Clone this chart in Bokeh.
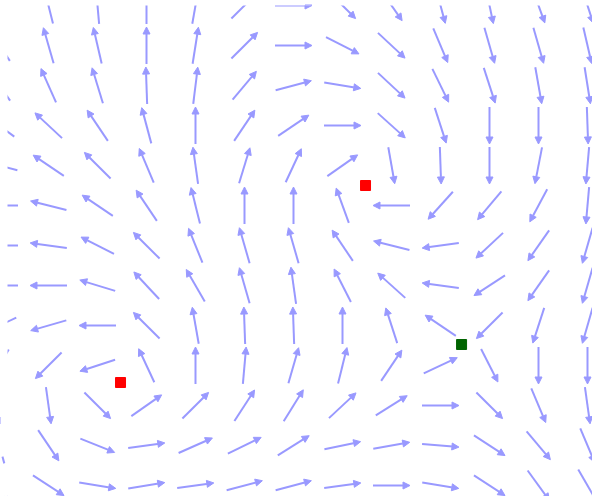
import numpy as np
from bokeh.plotting import figure
from bokeh.models import Arrow, NormalHead, ColumnDataSource, Range1d
from bokeh.embed import file_html
from bokeh.resources import INLINE

# grid: columns 0..12 (x), rows listed top to bottom (y = 12 .. 0)
cols = list(range(13))
rows = list(range(12, -1, -1))

# arrow direction in degrees (0 = right, 90 = up), one list per row, top row first
ang_r0 = [110, 104, 95, 90, 80, 45, 0, -45, -55, -75, -78, -70, -72]
ang_r1 = [124, 106, 103, 90, 81, 45, 0, -27, -43, -67, -74, -74, -77]
ang_r2 = [125, 114, 107, 92, 83, 50, 15, -9, -43, -64, -72, -80, -81]
ang_r3 = [143, 137, 124, 105, 90, 56, 34, 0, -42, -72, -90, -90, -88]
ang_r4 = [165, 146, 135, 113, 98, 73, 65, 35, -80, -88, -90, -101, -95]
ang_r5 = [180, 166, 146, 124, 104, 90, 90, 110, 180, 228, 230, 242, 265]
ang_r6 = [180, 172, 153, 135, 112, 106, 106, 124, 166, 188, 223, 235, 254]
ang_r7 = [180, 180, 163, 133, 120, 106, 98, 117, 138, 172, 213, 235, 254]
ang_r8 = [205, 196, 180, 135, 100, 92, 92, 90, 108, 146, 225, 252, 254]
ang_r9 = [240, 225, 198, 115, 90, 85, 74, 76, 56, 25, -63, -90, -90]
ang_r10 = [-90, -82, -45, 35, 45, 57, 58, 43, 32, 0, -45, -67, -82]
ang_r11 = [-75, -56, -22, 8, 24, 26, 32, 12, 10, -5, -33, -50, -67]
ang_r12 = [-70, -33, -9, 9, 8, 15, 15, 8, 0, -9, -33, -54, -60]
angles = [ang_r0, ang_r1, ang_r2, ang_r3, ang_r4, ang_r5, ang_r6,
          ang_r7, ang_r8, ang_r9, ang_r10, ang_r11, ang_r12]

# special points
red_x = [7.47, 2.47]
red_y = [7.5, 2.575]
green_x = [9.43]
green_y = [3.525]

W, H = 592, 496
BL, BT = 7, 5
x0r, x1r = (BL + 1) / 49, (W + 1) / 49
y1r, y0r = 12 - (BT - 5) / 40, 12 - (H - 5) / 40
sx = (W - BL) / (x1r - x0r)   # px per data unit
sy = (H - BT) / (y1r - y0r)
L = 37.0  # arrow length in px (style)

xs, ys, xe, ye = [], [], [], []
for j, yv in enumerate(rows):
    for i, xv in enumerate(cols):
        t = np.deg2rad(angles[j][i])
        dx = 0.5 * L * np.cos(t) / sx
        dy = 0.5 * L * np.sin(t) / sy
        xs.append(xv - dx); ys.append(yv - dy)
        xe.append(xv + dx); ye.append(yv + dy)

p = figure(width=W, height=H, output_backend="svg", toolbar_location=None,
           x_range=Range1d(x0r, x1r), y_range=Range1d(y0r, y1r),
           x_axis_type=None, y_axis_type=None,
           min_border_left=BL, min_border_top=BT,
           min_border_right=0, min_border_bottom=0)
p.grid.visible = False
p.outline_line_color = None
p.background_fill_color = "white"
p.border_fill_color = "white"

col = "#9999ff"
src = ColumnDataSource(dict(x0=xs, y0=ys, x1=xe, y1=ye))
p.add_layout(Arrow(end=NormalHead(size=7, fill_color=col, line_color=col, line_width=1),
                   x_start="x0", y_start="y0", x_end="x1", y_end="y1",
                   source=src, line_color=col, line_width=2))

p.scatter(red_x, red_y, marker="square", size=10, color="red")
p.scatter(green_x, green_y, marker="square", size=10, color="darkgreen")

open("out.html", "w").write(file_html(p, INLINE))
